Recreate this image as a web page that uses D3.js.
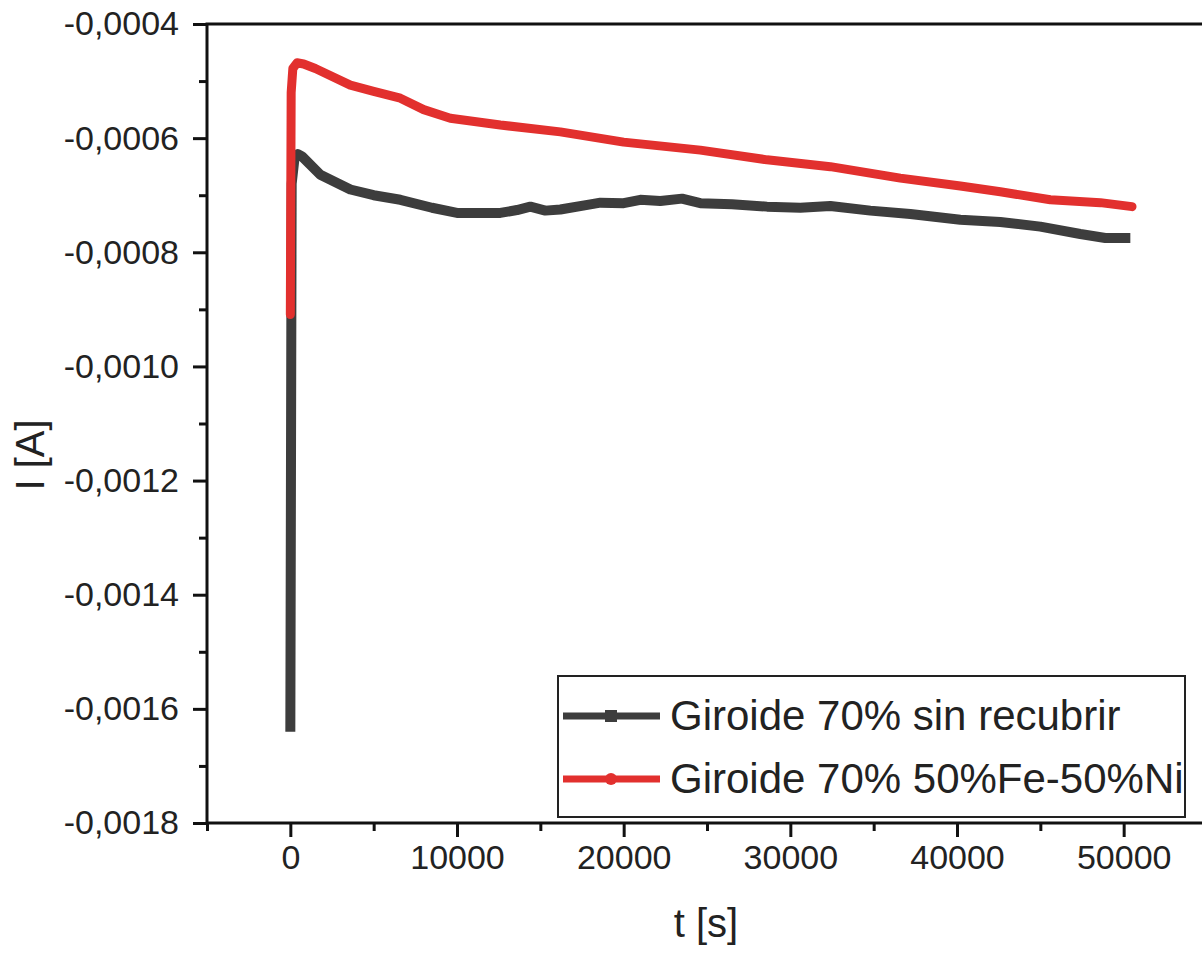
<!DOCTYPE html>
<html>
<head>
<meta charset="utf-8">
<script src="https://cdn.jsdelivr.net/npm/d3@7"></script>
<style>
  body { margin: 0; background: #fff; }
  svg { display: block; font-family: "Liberation Sans", Arial, sans-serif; }
</style>
</head>
<body>
<div id="chart"></div>
<script>
// time [s] and current [A]
const tBlack = [0, 80, 250, 450, 700, 1800, 3600, 5000, 6600, 8500, 10000, 12600, 13600, 14400, 15300, 16200,
    18000, 18600, 20000, 21000, 22200, 23500, 24600, 26500, 28600, 30600, 32400, 34800, 37200, 40200, 42600,
    45000, 47400, 48900, 50400];
const iBlack = [-0.00164, -0.00068, -0.000635, -0.000628, -0.000632, -0.000664, -0.000690, -0.000700, -0.000708,
    -0.000722, -0.000731, -0.000731, -0.000726, -0.000720, -0.000727, -0.000725, -0.000716, -0.000713, -0.000714,
    -0.000708, -0.000710, -0.000706, -0.000714, -0.000716, -0.000720, -0.000722, -0.000719, -0.000727, -0.000733,
    -0.000743, -0.000747, -0.000755, -0.000768, -0.000775, -0.000775];

const tRed = [0, 50, 150, 400, 800, 1500, 3600, 5000, 6600, 8000, 9600, 12600, 16200, 20000, 24600, 28600, 32400,
    36600, 40200, 42600, 45600, 48600, 50500];
const iRed = [-0.000909, -0.00052, -0.000478, -0.000468, -0.000470, -0.000478, -0.000507, -0.000518, -0.000530,
    -0.000550, -0.000565, -0.000577, -0.000589, -0.000607, -0.000621, -0.000638, -0.000650, -0.000670, -0.000684,
    -0.000694, -0.000708, -0.000713, -0.000720];

const seriesNames = ["Giroide 70% sin recubrir", "Giroide 70% 50%Fe-50%Ni"];
const seriesColors = ["#3d3d3d", "#e2302e"];

const xMajor = [0, 10000, 20000, 30000, 40000, 50000];
const yMajor = [-0.0018, -0.0016, -0.0014, -0.0012, -0.0010, -0.0008, -0.0006, -0.0004];

const width = 1202, height = 953;
const margin = {top: 24, right: -5, bottom: 130, left: 207};

const svg = d3.select("#chart").append("svg")
    .attr("width", width)
    .attr("height", height);

const x = d3.scaleLinear()
    .domain([-5000, 55000])
    .range([margin.left, width - margin.right]);

const y = d3.scaleLinear()
    .domain([-0.0018, -0.0004])
    .range([height - margin.bottom, margin.top]);

const loc = d3.formatLocale({decimal: ",", thousands: ".", grouping: [3], currency: ["", ""], minus: "-"});
const yFmt = loc.format(".4f");

// frame
svg.append("rect")
    .attr("x", x(-5000)).attr("y", y(-0.0004))
    .attr("width", x(55000) - x(-5000))
    .attr("height", y(-0.0018) - y(-0.0004))
    .attr("fill", "none")
    .attr("stroke", "#111")
    .attr("stroke-width", 3);

// x axis
svg.append("g")
    .attr("transform", `translate(0,${y(-0.0018)})`)
    .call(d3.axisBottom(x).tickValues(xMajor).tickSize(14).tickPadding(8).tickFormat(d3.format("d")));
svg.append("g")
    .attr("transform", `translate(0,${y(-0.0018)})`)
    .call(d3.axisBottom(x).tickValues(d3.range(-5000, 55001, 10000)).tickSize(8).tickFormat(""));

// y axis
svg.append("g")
    .attr("transform", `translate(${x(-5000)},0)`)
    .call(d3.axisLeft(y).tickValues(yMajor).tickSize(14).tickPadding(14).tickFormat(yFmt));
svg.append("g")
    .attr("transform", `translate(${x(-5000)},0)`)
    .call(d3.axisLeft(y).tickValues(d3.range(-0.0017, -0.00045, 0.0002)).tickSize(8).tickFormat(""));

svg.selectAll(".domain").remove();
svg.selectAll(".tick line").attr("stroke", "#111").attr("stroke-width", 3);
svg.selectAll(".tick text")
    .attr("fill", "#222")
    .style("font-size", "34px")
    .style("font-family", "'Liberation Sans', Arial, sans-serif");

// axis titles
svg.append("text")
    .attr("x", 706).attr("y", 937)
    .attr("text-anchor", "middle")
    .style("font-size", "40px")
    .attr("fill", "#222")
    .text("t [s]");

svg.append("text")
    .attr("transform", "translate(44,455) rotate(-90)")
    .attr("text-anchor", "middle")
    .style("font-size", "40px")
    .attr("fill", "#222")
    .text("I [A]");

// curves
const line = d3.line()
    .x(d => x(d[0]))
    .y(d => y(d[1]));

const black = tBlack.map((t, i) => [t, iBlack[i]]);
const red = tRed.map((t, i) => [t, iRed[i]]);

svg.append("path")
    .datum(black)
    .attr("d", line)
    .attr("fill", "none")
    .attr("stroke", seriesColors[0])
    .attr("stroke-width", 10)
    .attr("stroke-linejoin", "round");

svg.append("path")
    .datum(red)
    .attr("d", line)
    .attr("fill", "none")
    .attr("stroke", seriesColors[1])
    .attr("stroke-width", 9)
    .attr("stroke-linejoin", "round")
    .attr("stroke-linecap", "round");

// legend
const lg = svg.append("g").attr("transform", "translate(558,676)");
lg.append("rect")
    .attr("width", 627).attr("height", 141)
    .attr("fill", "#fff")
    .attr("stroke", "#222")
    .attr("stroke-width", 2);

seriesNames.forEach((name, i) => {
    let row = lg.append("g").attr("transform", `translate(0,${40 + i * 63})`);
    row.append("line")
        .attr("x1", 5).attr("x2", 102)
        .attr("stroke", seriesColors[i])
        .attr("stroke-width", 7);
    if (i === 0) {
        row.append("rect").attr("x", 47).attr("y", -6).attr("width", 12).attr("height", 12)
            .attr("fill", seriesColors[i]);
    } else {
        row.append("circle").attr("cx", 53).attr("r", 6).attr("fill", seriesColors[i]);
    }
    row.append("text")
        .attr("x", 112).attr("y", 14)
        .style("font-size", "42px")
        .attr("fill", "#222")
        .text(name);
});
</script>
</body>
</html>
